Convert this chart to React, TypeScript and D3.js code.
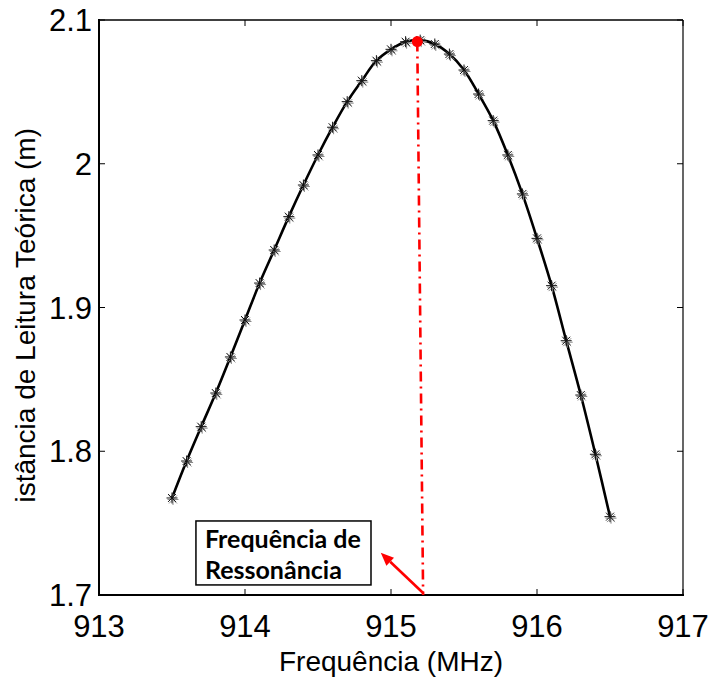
import React from "react";
import * as d3 from "d3";

const frequencies = [
  913.5, 913.6, 913.7, 913.8, 913.9, 914.0, 914.1, 914.2, 914.3, 914.4, 914.5,
  914.6, 914.7, 914.8, 914.9, 915.0, 915.1, 915.2, 915.3, 915.4, 915.5, 915.6,
  915.7, 915.8, 915.9, 916.0, 916.1, 916.2, 916.3, 916.4, 916.5,
];
const distances = [
  1.7675, 1.7932, 1.8171, 1.8405, 1.8656, 1.8913, 1.917, 1.94, 1.9632, 1.9852,
  2.0061, 2.0254, 2.0432, 2.0578, 2.0717, 2.0796, 2.0849, 2.086, 2.0833, 2.0763,
  2.0652, 2.0485, 2.03, 2.0061, 1.979, 1.9481, 1.9152, 1.8769, 1.8391, 1.7979,
  1.7545,
];
const xTicks = [913, 914, 915, 916, 917];
const yTicks = [1.7, 1.8, 1.9, 2.0, 2.1];
const yTickLabels = ["1.7", "1.8", "1.9", "2", "2.1"];
const peakPoint = [915.18, 2.085];
const resonanceLineBottom = [915.22, 1.7];
const arrowTip = [914.93, 1.7294];
const boxCorners = [913.664, 1.7515, 914.863, 1.707];
const boxLines = ["Frequência de", "Ressonância"];
const xTitle = "Frequência (MHz)";
const yTitle = "Distância de Leitura Teórica (m)";

const W = 714;
const H = 678;
const L = 99, R = 683, T = 20, B = 595;

export default function App() {
  const x = d3.scaleLinear().domain([913, 917]).range([L, R]);
  const y = d3.scaleLinear().domain([1.7, 2.1]).range([B, T]);
  const pts: [number, number][] = frequencies.map((f, i) => [x(f), y(distances[i])]);
  const line = d3.line().curve(d3.curveCatmullRom.alpha(0.5))(pts) || "";

  const star = (cx: number, cy: number, s: number) => {
    const d = s * 0.72;
    return `M${cx - s},${cy}L${cx + s},${cy}M${cx},${cy - s}L${cx},${cy + s}M${cx - d},${cy - d}L${cx + d},${cy + d}M${cx - d},${cy + d}L${cx + d},${cy - d}`;
  };

  const px0 = x(peakPoint[0]), py0 = y(peakPoint[1]);
  const lx1 = x(resonanceLineBottom[0]), ly1 = y(resonanceLineBottom[1]);
  const tipX = x(arrowTip[0]), tipY = y(arrowTip[1]);
  const ang = Math.atan2(tipY - (ly1 - 2), tipX - lx1);
  const ah = 13, aw = 5.5;
  const bx = tipX - ah * Math.cos(ang), by = tipY - ah * Math.sin(ang);
  const arrowHead = `M${tipX},${tipY}L${bx + aw * Math.sin(ang)},${by - aw * Math.cos(ang)}L${bx - aw * Math.sin(ang)},${by + aw * Math.cos(ang)}Z`;

  const bxL = x(boxCorners[0]), byT = y(boxCorners[1]), bxR = x(boxCorners[2]), byB = y(boxCorners[3]);

  return (
    <svg
      width={W}
      height={H}
      style={{ position: "absolute", left: 0, top: 0, background: "#fff" }}
      fontFamily="'Liberation Sans', Arial, sans-serif"
    >
      <defs>
        <clipPath id="ylab">
          <rect x={0} y={0} width={60} height={501} />
        </clipPath>
      </defs>
      <rect x={0} y={0} width={W} height={H} fill="#fff" />
      {/* frame */}
      <line x1={L} y1={T} x2={R} y2={T} stroke="#000" strokeWidth={1.3} />
      <line x1={R} y1={T} x2={R} y2={B} stroke="#000" strokeWidth={1.2} />
      <line x1={L} y1={T - 1} x2={L} y2={B + 1} stroke="#000" strokeWidth={2} />
      <line x1={L - 1} y1={B} x2={R + 1} y2={B} stroke="#000" strokeWidth={2} />
      {/* ticks */}
      {xTicks.map((t) => (
        <g key={"xt" + t}>
          <line x1={x(t)} y1={B} x2={x(t)} y2={B - 6} stroke="#000" strokeWidth={1} />
          <line x1={x(t)} y1={T} x2={x(t)} y2={T + 6} stroke="#000" strokeWidth={1} />
          <text x={x(t)} y={637} fontSize={31} textAnchor="middle" fill="#000">
            {t}
          </text>
        </g>
      ))}
      {yTicks.map((t, i) => (
        <g key={"yt" + t}>
          <line x1={L} y1={y(t)} x2={L + 6} y2={y(t)} stroke="#000" strokeWidth={1} />
          <line x1={R} y1={y(t)} x2={R - 6} y2={y(t)} stroke="#000" strokeWidth={1} />
          <text x={92} y={y(t) + 11} fontSize={31} textAnchor="end" fill="#000">
            {yTickLabels[i]}
          </text>
        </g>
      ))}
      {/* titles */}
      <text x={(L + R) / 2} y={671} fontSize={28} textAnchor="middle" fill="#000">
        {xTitle}
      </text>
      <g clipPath="url(#ylab)">
        <text
          transform="translate(35,128) rotate(-90)"
          fontSize={28}
          textAnchor="end"
          fill="#000"
        >
          {yTitle}
        </text>
      </g>
      {/* curve */}
      <path d={line} fill="none" stroke="#000" strokeWidth={2.6} strokeLinejoin="round" />
      {pts.map(([cx, cy], i) => (
        <g key={"m" + i}>
          <path d={star(cx + 1, cy + 1.5, 5.5)} stroke="#888" strokeWidth={1} fill="none" />
          <path d={star(cx, cy, 5.5)} stroke="#111" strokeWidth={1} fill="none" />
        </g>
      ))}
      {/* resonance line */}
      <line
        x1={px0}
        y1={py0}
        x2={lx1}
        y2={ly1}
        stroke="#ff0000"
        strokeWidth={2.6}
        strokeDasharray="10,5,2,5"
      />
      <circle cx={px0} cy={py0} r={5.5} fill="#ff0000" />
      {/* arrow */}
      <line x1={lx1} y1={ly1 - 2} x2={bx} y2={by} stroke="#ff0000" strokeWidth={2.6} />
      <path d={arrowHead} fill="#ff0000" />
      {/* annotation box */}
      <rect x={bxL} y={byT} width={bxR - bxL} height={byB - byT} fill="#fff" stroke="#000" strokeWidth={1.5} />
      {boxLines.map((s, i) => (
        <text
          key={s}
          x={bxL + 9}
          y={548 + i * 31}
          fontFamily="Lato, 'Open Sans', sans-serif"
          fontWeight="bold"
          fontSize={25}
          fill="#000"
        >
          {s}
        </text>
      ))}
    </svg>
  );
}
